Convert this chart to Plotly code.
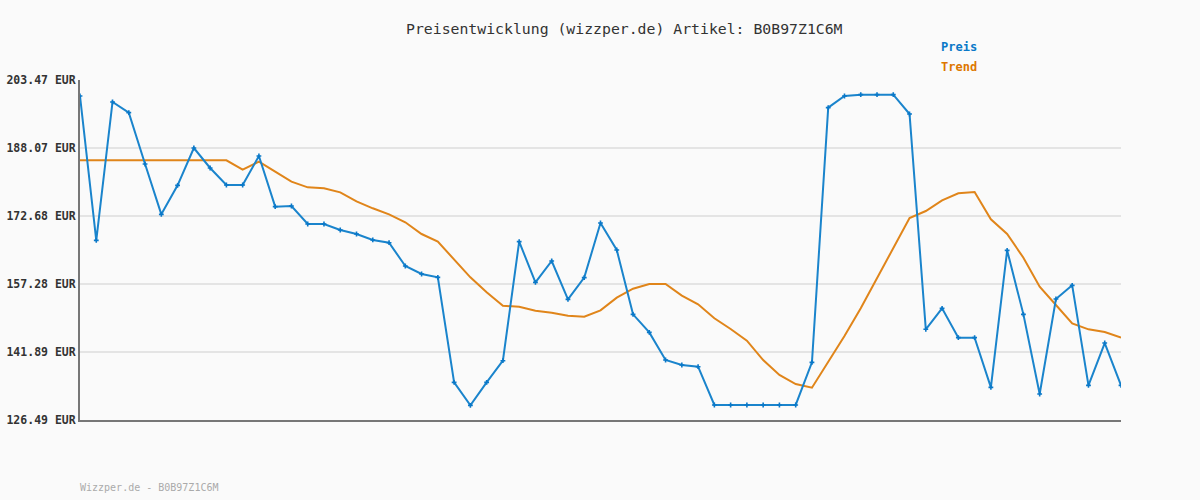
import plotly.graph_objects as go

preis = [199.85, 167.17, 198.49, 196.08, 184.45, 173.05, 179.62, 188.07, 183.55, 179.70,
         179.70, 186.26, 174.79, 174.94, 170.87, 170.87, 169.51, 168.60, 167.25, 166.63,
         161.36, 159.55, 158.79, 135.02, 129.81, 135.02, 139.92, 166.87, 157.66, 162.49,
         153.81, 158.72, 171.09, 164.98, 150.41, 146.33, 140.07, 138.94, 138.56, 129.89,
         129.89, 129.89, 129.89, 129.89, 129.89, 139.54, 197.21, 199.85, 200.15, 200.15,
         200.15, 195.77, 147.02, 151.77, 145.13, 145.13, 133.88, 164.90, 150.41, 132.38,
         153.89, 156.98, 134.34, 143.92, 134.34]

trend = [185.29, 185.29, 185.29, 185.29, 185.29, 185.29, 185.29, 185.29, 185.29, 185.29,
         183.17, 184.97, 182.71, 180.45, 179.17, 178.95, 178.04, 176.00, 174.42, 173.05,
         171.25, 168.60, 166.87, 162.87, 158.79, 155.40, 152.37, 152.14, 151.23, 150.78,
         150.10, 149.88, 151.32, 154.18, 156.22, 157.28, 157.28, 154.64, 152.68, 149.52,
         147.09, 144.45, 140.07, 136.68, 134.64, 133.80, 139.69, 145.51, 151.77, 158.57,
         165.50, 172.23, 173.81, 176.23, 177.82, 178.11, 171.93, 168.60, 163.23, 156.67,
         152.53, 148.38, 147.02, 146.41, 145.13]

tick_vals = [126.49, 141.89, 157.28, 172.68, 188.07, 203.47]
tick_text = ["126.49 EUR", "141.89 EUR", "157.28 EUR", "172.68 EUR", "188.07 EUR", "203.47 EUR"]

x = list(range(len(preis)))
mono = "DejaVu Sans Mono"

fig = go.Figure()
fig.add_trace(go.Scatter(x=x, y=trend, mode="lines", name="Trend",
                         line=dict(color="#e0851a", width=2)))
fig.add_trace(go.Scatter(x=x, y=preis, mode="lines+markers", name="Preis",
                         line=dict(color="#1a84cc", width=2),
                         marker=dict(symbol="cross", size=4, color="#0a78c8")))

fig.update_layout(
    width=1200, height=500,
    paper_bgcolor="#fafafa", plot_bgcolor="#fafafa",
    margin=dict(l=80, r=79, t=80, b=80, autoexpand=False),
    showlegend=False,
    xaxis=dict(range=[0, len(preis) - 1], showticklabels=False, showgrid=False,
               zeroline=False, showline=True, linecolor="#777777", linewidth=2, ticks=""),
    yaxis=dict(range=[126.49, 203.47], tickvals=tick_vals,
               ticktext=["<b>" + t + "</b>" for t in tick_text],
               tickfont=dict(family=mono, size=11.5, color="#333333"),
               showgrid=True, gridcolor="#e4e4e4", gridwidth=2,
               zeroline=False, showline=True, linecolor="#777777", linewidth=2,
               ticks="", ticklen=0, automargin=False),
    annotations=[
        dict(text="Preisentwicklung (wizzper.de) Artikel: B0B97Z1C6M", xref="paper", yref="paper",
             x=(624 - 80) / 1041, y=1 + (80 - 28) / 340, xanchor="center", yanchor="middle",
             showarrow=False, font=dict(family=mono, size=14.8, color="#333333")),
        dict(text="<b>Preis</b>", xref="paper", yref="paper",
             x=(939 - 80) / 1041, y=1 + (80 - 47) / 340, xanchor="left", yanchor="middle",
             showarrow=False, font=dict(family=mono, size=12, color="#0a78c8")),
        dict(text="<b>Trend</b>", xref="paper", yref="paper",
             x=(939 - 80) / 1041, y=1 + (80 - 67) / 340, xanchor="left", yanchor="middle",
             showarrow=False, font=dict(family=mono, size=12, color="#dd7700")),
        dict(text="Wizzper.de - B0B97Z1C6M", xref="paper", yref="paper",
             x=-0.002, y=-(487 - 420) / 340, xanchor="left", yanchor="middle",
             showarrow=False, font=dict(family=mono, size=10, color="#aaaaaa")),
    ],
)

fig.write_html("out.html", config={"displayModeBar": False},
               post_script="document.body.style.margin='0';")
